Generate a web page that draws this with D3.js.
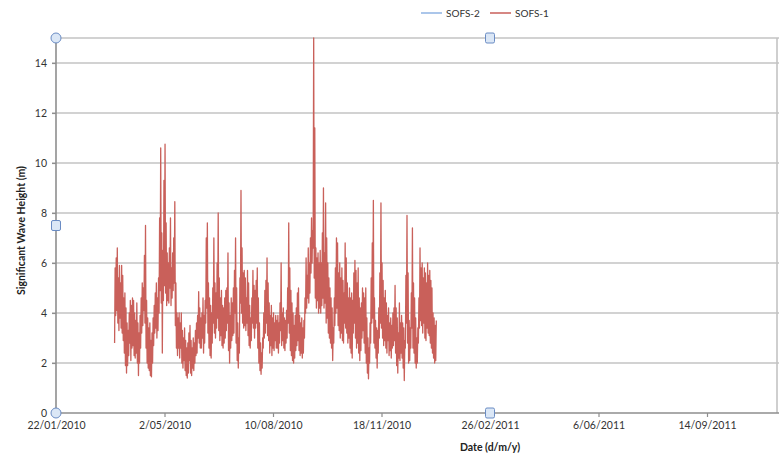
<!DOCTYPE html>
<html>
<head>
<meta charset="utf-8">
<script src="https://cdn.jsdelivr.net/npm/d3@7"></script>
<style>
  html, body { margin: 0; padding: 0; background: #ffffff; }
  svg { display: block; font-family: Lato, "Open Sans", sans-serif; }
</style>
</head>
<body>
<svg id="chart" width="779" height="454"></svg>
<script>
// Series shown in the legend (SOFS-2 has no readings in this period)
const seriesNames = ["SOFS-2", "SOFS-1"];
const seriesColors = ["#8fb4e3", "#c9605a"];

// Axis ticks
const xTickLabels = ["22/01/2010", "2/05/2010", "10/08/2010", "18/11/2010", "26/02/2011", "6/06/2011", "14/09/2011"];
const yTickLabels = [0, 2, 4, 6, 8, 10, 12, 14];
const xDomainLabels = ["22/01/2010", "1/04/2012"];
const yDomain = [0, 15];

// SOFS-2 significant wave height (m)
const sofs2Values = [];

// SOFS-1 significant wave height (m): daily low (00:00) and high (12:00) from 17/03/2010
const sofs1Start = "17/03/2010";
const sofs1Low = [
  2.8, 3.9, 4.1, 3.6, 3.3, 3.8, 3.4, 3.2, 2.9, 2.4,
  1.9, 1.6, 1.9, 2.3, 2.8, 2.1, 2.6, 2.7, 2.3, 2.2,
  2.4, 2.0, 1.5, 2.0, 2.6, 3.2, 3.5, 4.1, 3.6, 2.6,
  2.0, 1.8, 1.7, 1.5, 1.45, 2.0, 2.7, 3.2, 3.4, 3.0,
  3.3, 4.0, 4.9, 4.4, 2.4, 4.5, 5.1, 4.8, 4.3, 4.5,
  4.4, 5.0, 4.3, 4.6, 4.9, 5.2, 3.5, 2.6, 2.3, 2.6,
  2.2, 2.6, 2.0, 1.8, 2.1, 1.7, 1.5, 1.4, 1.6, 2.1,
  1.6, 1.5, 1.8, 1.7, 2.0, 2.3, 2.4, 3.0, 2.8, 2.6,
  2.6, 3.0, 2.4, 2.8, 3.6, 4.2, 3.2, 2.6, 2.3, 2.2,
  2.8, 3.6, 3.2, 3.0, 3.4, 3.8, 3.3, 2.9, 3.1, 2.7,
  2.6, 2.8, 3.0, 3.3, 3.6, 2.5, 2.0, 2.6, 2.9, 3.1,
  3.2, 4.0, 2.8, 2.1, 1.8, 2.4, 4.4, 4.0, 3.6, 3.4,
  3.5, 3.3, 3.6, 3.1, 2.7, 2.6, 2.9, 3.6, 3.4, 3.0,
  3.4, 3.6, 2.6, 2.0, 1.7, 1.55, 1.8, 2.6, 3.0, 3.2,
  3.6, 3.1, 2.9, 2.4, 2.7, 2.3, 2.6, 2.5, 2.9, 2.6,
  2.6, 2.4, 2.8, 3.3, 2.7, 2.9, 2.6, 2.5, 2.8, 3.0,
  3.6, 3.2, 2.5, 2.3, 2.1, 2.0, 2.2, 2.5, 2.7, 2.9,
  2.5, 2.3, 2.4, 2.2, 2.4, 3.0, 4.0, 4.2, 4.6, 4.4,
  4.8, 5.6, 6.0, 6.6, 5.4, 4.6, 4.2, 4.5, 4.0, 4.2,
  4.0, 4.3, 4.6, 4.2, 4.4, 3.6, 3.8, 3.2, 3.0, 2.8,
  2.6, 2.1, 2.8, 3.5, 4.0, 4.2, 3.5, 3.3, 3.0, 3.2,
  2.9, 2.8, 3.6, 3.4, 3.2, 2.8, 3.0, 2.6, 2.4, 2.2,
  3.2, 3.6, 3.0, 2.6, 2.8, 2.4, 2.1, 2.5, 3.0, 3.3,
  2.8, 2.4, 2.0, 1.6, 1.37, 2.0, 2.8, 3.6, 3.8, 2.8,
  2.6, 2.2, 1.8, 2.4, 3.0, 3.6, 3.4, 3.0, 2.7, 2.9,
  2.6, 2.4, 2.9, 2.3, 2.5, 2.2, 2.6, 2.7, 2.9, 2.4,
  1.9, 1.6, 2.2, 2.1, 2.4, 2.2, 1.8, 1.3, 2.6, 3.6,
  2.8, 2.0, 2.1, 2.6, 3.4, 2.6, 2.4, 2.0, 1.8, 2.0,
  2.8, 3.4, 3.7, 3.5, 3.2, 3.6, 3.0, 2.9, 3.4, 3.2,
  3.1, 2.8, 2.6, 2.4, 2.2, 2.0, 2.1
];
const sofs1High = [
  5.8, 6.2, 6.6, 5.4, 5.9, 5.2, 5.9, 5.5, 4.6, 4.8,
  4.2, 3.6, 3.3, 4.0, 4.5, 4.3, 4.6, 4.5, 4.0, 3.7,
  4.4, 3.6, 3.2, 3.9, 4.6, 5.2, 5.0, 6.3, 7.5, 4.5,
  3.8, 3.4, 3.6, 2.9, 3.2, 3.8, 4.3, 4.8, 5.2, 4.6,
  5.4, 7.8, 10.6, 7.2, 6.5, 9.3, 10.75, 7.6, 6.4, 6.0,
  6.6, 7.8, 5.8, 6.4, 7.0, 8.45, 5.2, 4.0, 3.8, 4.0,
  3.6, 4.0, 3.3, 3.0, 3.4, 2.9, 2.6, 2.8, 3.2, 3.5,
  2.9, 2.6, 3.0, 2.8, 3.3, 3.6, 3.9, 4.85, 4.2, 3.8,
  4.0, 4.6, 3.9, 4.5, 7.0, 7.6, 5.2, 4.6, 4.3, 4.0,
  5.0, 7.0, 5.2, 4.8, 6.0, 8.0, 5.4, 4.6, 4.9, 4.3,
  4.2, 4.6, 4.9, 5.0, 6.4, 4.4, 3.9, 4.6, 4.4, 5.0,
  5.7, 7.0, 5.0, 3.6, 3.0, 5.4, 8.9, 6.6, 5.6, 5.7,
  5.4, 4.6, 5.7, 5.2, 4.3, 3.8, 4.6, 5.7, 5.1, 4.9,
  5.3, 5.8, 4.6, 3.6, 2.8, 2.4, 3.0, 4.0, 4.9, 5.3,
  6.2, 5.2, 4.4, 3.9, 4.3, 3.8, 4.0, 3.6, 3.9, 3.7,
  3.9, 3.6, 4.4, 6.0, 4.0, 4.2, 3.8, 3.7, 4.1, 5.0,
  7.6, 5.8, 4.9, 4.4, 4.0, 3.5, 3.9, 4.2, 4.8, 5.0,
  3.9, 3.6, 3.8, 3.4, 3.7, 4.6, 6.2, 5.5, 6.6, 6.0,
  7.0, 7.8, 7.3, 15.0, 11.4, 6.6, 6.2, 6.4, 6.0, 6.5,
  6.0, 7.2, 9.0, 6.4, 8.4, 7.0, 6.0, 5.4, 5.0, 4.6,
  4.2, 3.4, 4.6, 5.8, 7.0, 6.8, 5.6, 6.0, 5.4, 5.8,
  5.3, 4.8, 6.8, 6.2, 5.2, 4.6, 5.0, 4.6, 4.8, 4.5,
  5.6, 6.1, 5.7, 5.2, 5.8, 4.6, 4.2, 4.4, 5.0, 4.8,
  4.6, 5.0, 3.8, 3.0, 2.6, 3.6, 5.4, 6.8, 8.5, 4.6,
  3.7, 3.4, 3.3, 4.2, 5.6, 8.4, 6.0, 5.3, 4.6, 4.9,
  4.4, 3.9, 4.2, 3.6, 3.8, 3.5, 4.0, 4.2, 5.1, 4.2,
  3.8, 3.2, 4.4, 3.6, 3.9, 3.6, 3.4, 2.9, 5.5, 7.9,
  5.6, 3.7, 3.4, 4.8, 7.4, 5.2, 4.6, 3.8, 3.0, 3.4,
  4.6, 6.6, 5.8, 6.0, 5.4, 5.8, 5.6, 5.2, 6.0, 5.5,
  5.7, 5.3, 5.0, 4.0, 3.8, 3.5, 3.7
];

// ---- layout ----
const svg = d3.select("#chart");
const plot = { left: 56, top: 38, right: 924, bottom: 413 };
const parseDate = d3.timeParse("%d/%m/%Y");

const x = d3.scaleTime()
  .domain(xDomainLabels.map(parseDate))
  .range([plot.left, plot.right]);
const y = d3.scaleLinear()
  .domain(yDomain)
  .range([plot.bottom, plot.top]);

const gridColor = "#c3c3c3";
const axisColor = "#8e8e8e";
const textColor = "#333333";
const tickFont = "10.5px";

// horizontal gridlines (with short outward ticks) and the top edge at the axis maximum
const gridValues = yTickLabels.filter(v => v > 0).concat([yDomain[1]]);
svg.append("g").selectAll("line").data(gridValues).join("line")
  .attr("x1", d => d === yDomain[1] ? plot.left : plot.left - 4)
  .attr("x2", plot.right)
  .attr("y1", d => y(d)).attr("y2", d => y(d))
  .attr("stroke", gridColor).attr("stroke-width", 1.6);

// right border of the visible frame
svg.append("line")
  .attr("x1", 777).attr("x2", 777)
  .attr("y1", plot.top).attr("y2", plot.bottom)
  .attr("stroke", gridColor).attr("stroke-width", 1.6);

// y axis
const yAxis = d3.axisLeft(y).tickValues(yTickLabels).tickSize(4).tickPadding(5)
  .tickFormat(d3.format("d"));
const gy = svg.append("g").attr("transform", `translate(${plot.left},0)`).call(yAxis);
gy.select(".domain").attr("stroke", axisColor).attr("stroke-width", 1.6)
  .attr("d", `M0,${plot.top}V${plot.bottom}`);
gy.selectAll(".tick line").attr("stroke", axisColor).attr("stroke-width", 1.2);
gy.selectAll(".tick text").attr("fill", textColor).style("font-size", tickFont)
  .style("font-family", "Lato, 'Open Sans', sans-serif");

// x axis
const xAxis = d3.axisBottom(x).tickValues(xTickLabels.map(parseDate)).tickSize(4).tickPadding(5)
  .tickFormat((d, i) => xTickLabels[i]);
const gx = svg.append("g").attr("transform", `translate(0,${plot.bottom})`).call(xAxis);
gx.select(".domain").attr("stroke", axisColor).attr("stroke-width", 1.6)
  .attr("d", `M${plot.left},0H${plot.right}`);
gx.selectAll(".tick line").attr("stroke", axisColor).attr("stroke-width", 1.2);
gx.selectAll(".tick text").attr("fill", textColor).style("font-size", tickFont)
  .style("font-family", "Lato, 'Open Sans', sans-serif");

// axis titles
svg.append("text")
  .attr("transform", `translate(25,${(plot.top + plot.bottom) / 2 + 5}) rotate(-90)`)
  .attr("text-anchor", "middle").attr("fill", "#222")
  .style("font-size", "10.5px").style("font-weight", "bold")
  .text("Significant Wave Height (m)");
svg.append("text")
  .attr("x", (plot.left + plot.right) / 2).attr("y", 451)
  .attr("text-anchor", "middle").attr("fill", "#222")
  .style("font-size", "10.5px").style("font-weight", "bold")
  .text("Date (d/m/y)");

// series
const start = parseDate(sofs1Start);
const sofs1Points = [];
sofs1Low.forEach((lo, i) => {
  sofs1Points.push({ t: d3.timeHour.offset(start, 24 * i), v: lo });
  sofs1Points.push({ t: d3.timeHour.offset(start, 24 * i + 12), v: sofs1High[i] });
});
const line = d3.line().x(d => x(d.t)).y(d => y(d.v));

svg.append("path").datum(sofs2Values)
  .attr("fill", "none").attr("stroke", seriesColors[0]).attr("stroke-width", 1.2)
  .attr("d", sofs2Values.length ? line : null);
svg.append("path").datum(sofs1Points)
  .attr("fill", "none").attr("stroke", seriesColors[1]).attr("stroke-width", 1.3)
  .attr("stroke-linejoin", "round")
  .attr("d", line);

// legend
const legendItems = [
  { name: seriesNames[0], color: seriesColors[0], x: 421 },
  { name: seriesNames[1], color: seriesColors[1], x: 490 }
];
const lg = svg.append("g").selectAll("g").data(legendItems).join("g")
  .attr("transform", d => `translate(${d.x},13)`);
lg.append("line").attr("x1", 0).attr("x2", 21).attr("y1", 0).attr("y2", 0)
  .attr("stroke", d => d.color).attr("stroke-width", 2).attr("opacity", 0.75);
lg.append("text").attr("x", 25).attr("y", 3.6).attr("fill", textColor)
  .style("font-size", "10px").text(d => d.name);

// selection handles of the plot area
const handleFill = "#dbe7f6", handleStroke = "#6a8cc4";
const circles = [[plot.left, plot.top], [plot.left, plot.bottom]];
const squares = [[plot.left, (plot.top + plot.bottom) / 2], [(plot.left + plot.right) / 2, plot.top], [(plot.left + plot.right) / 2, plot.bottom]];
svg.append("g").selectAll("circle").data(circles).join("circle")
  .attr("cx", d => d[0]).attr("cy", d => d[1]).attr("r", 5)
  .attr("fill", handleFill).attr("stroke", handleStroke).attr("stroke-width", 1);
svg.append("g").selectAll("rect").data(squares).join("rect")
  .attr("x", d => d[0] - 4.5).attr("y", d => d[1] - 5).attr("width", 9).attr("height", 10)
  .attr("rx", 1.5)
  .attr("fill", handleFill).attr("stroke", handleStroke).attr("stroke-width", 1);
</script>
</body>
</html>
